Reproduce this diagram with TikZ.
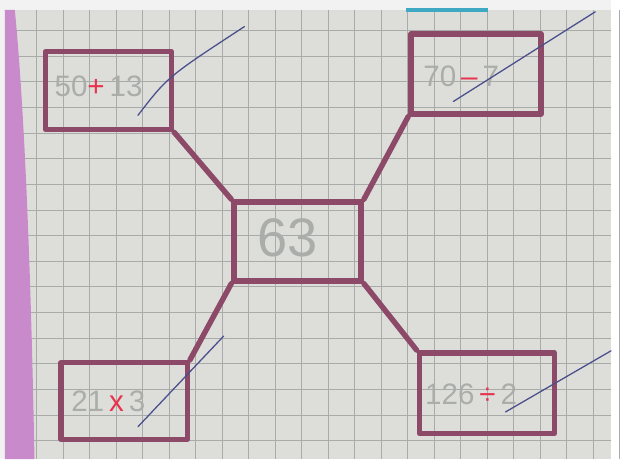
\documentclass[tikz,border=0pt]{standalone}
\usepackage{fontspec}
\setmainfont{Liberation Sans}
\usetikzlibrary{positioning}
\definecolor{paper}{HTML}{DDDEDA}
\definecolor{gridline}{HTML}{A9ABA8}
\definecolor{marker}{HTML}{8C4A68}
\definecolor{pencil}{HTML}{ABADAA}
\definecolor{redpen}{HTML}{E8334F}
\definecolor{bluepen}{HTML}{4B4F8C}
\definecolor{folder}{HTML}{C98ACB}
\definecolor{tape}{HTML}{3FA9C4}
\begin{document}
\begin{tikzpicture}[x=1pt, y=-1pt,
    opbox/.style={draw=marker, line width=5.5pt, line join=round, inner sep=0pt, minimum width=130pt, minimum height=80pt},
    numtext/.style={text=pencil, inner sep=0pt, font=\fontsize{30}{30}\selectfont},
    link/.style={draw=marker, line width=5.5pt, line cap=round},
    tick/.style={draw=bluepen, line width=1.3pt, line cap=round}]
    % Paper and grid
    \fill[white!95!black] (0,0) rectangle (620,466);
    \fill[paper] (5,10) rectangle (620,466);
    \foreach \gx in {-1,...,22}
        \draw[gridline, line width=0.7pt] ({37+26.9*\gx},10) -- ({37+26.9*\gx},466);
    \foreach \gy in {0,...,16}
        \draw[gridline, line width=0.7pt] (5,{31+26*\gy}) -- (620,{31+26*\gy});
    % Folder edge and tape
    \fill[folder] (5,10) -- (15,10) .. controls (21,70) and (30,200) .. (35,466) -- (5,466) -- cycle;
    \fill[tape] (412,8) rectangle (495,12);
    % Boxes
    \node[opbox, minimum width=128pt, minimum height=79pt] (sum) at (110,92) {};
    \node[opbox, minimum width=132pt, minimum height=81pt] (diff) at (483,75) {};
    \node[opbox, minimum width=129pt, minimum height=80pt] (result) at (302,245) {};
    \node[opbox, minimum width=128pt, minimum height=78pt] (prod) at (126,407) {};
    \node[opbox, minimum width=137pt, minimum height=82pt] (quot) at (494,399) {};
    % Links
    \draw[link] (sum.south east) -- (result.north west);
    \draw[link] (diff.south west) -- (result.north east);
    \draw[link] (result.south west) -- (prod.north east);
    \draw[link] (result.south east) -- (quot.north west);
    % Texts
    \node[numtext] (sumtext) at (100,88) {50{\color{redpen}+}\,13};
    \node[numtext] (difftext) at (468,77) {70\,{\color{redpen}--}\,7};
    \node[numtext, font=\fontsize{55}{55}\selectfont] (restext) at (292,241) {63};
    \node[numtext] (prodtext) at (110,407) {21\,{\color{redpen}x}\,3};
    \node[numtext] (quottext) at (478,400) {126\,{\color{redpen}÷}\,2};
    % Ticks
    \draw[tick] (140,117) .. controls (170,78) .. (248,27);
    \draw[tick] (460,103) -- (604,12);
    \draw[tick] (140,433) -- (227,341);
    \draw[tick] (513,418) -- (620,356);
    \useasboundingbox (0,0) rectangle (620,466);
\end{tikzpicture}
\end{document}
